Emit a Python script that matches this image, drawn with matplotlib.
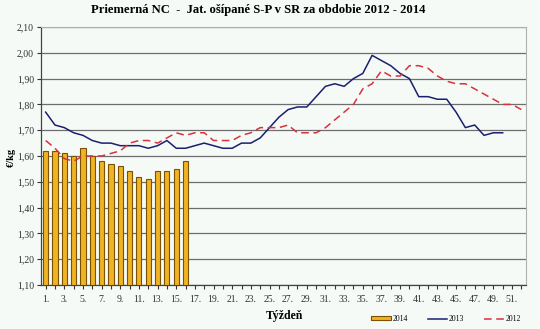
import matplotlib
matplotlib.use("Agg")
import matplotlib.pyplot as plt
from matplotlib.lines import Line2D
from matplotlib.patches import Patch
import numpy as np

plt.rcParams['font.family'] = ['Liberation Serif', 'DejaVu Serif']

weeks = list(range(1, 53))

price_2014 = [1.62, 1.62, 1.61, 1.60, 1.63, 1.60, 1.58, 1.57, 1.56, 1.54,
              1.52, 1.51, 1.54, 1.54, 1.55, 1.58]

price_2013 = [1.77, 1.72, 1.71, 1.69, 1.68, 1.66, 1.65, 1.65, 1.64, 1.64,
              1.64, 1.63, 1.64, 1.66, 1.63, 1.63, 1.64, 1.65, 1.64, 1.63,
              1.63, 1.65, 1.65, 1.67, 1.71, 1.75, 1.78, 1.79, 1.79, 1.83,
              1.87, 1.88, 1.87, 1.90, 1.92, 1.99, 1.97, 1.95, 1.92, 1.90,
              1.83, 1.83, 1.82, 1.82, 1.77, 1.71, 1.72, 1.68, 1.69, 1.69]

price_2012 = [1.66, 1.63, 1.59, 1.58, 1.60, 1.60, 1.60, 1.61, 1.62, 1.65,
              1.66, 1.66, 1.65, 1.67, 1.69, 1.68, 1.69, 1.69, 1.66, 1.66,
              1.66, 1.68, 1.69, 1.71, 1.71, 1.71, 1.72, 1.69, 1.69, 1.69,
              1.71, 1.74, 1.77, 1.80, 1.86, 1.88, 1.93, 1.91, 1.91, 1.95,
              1.95, 1.94, 1.91, 1.89, 1.88, 1.88, 1.86, 1.84, 1.82, 1.80,
              1.80, 1.78]

y_ticks = [1.10, 1.20, 1.30, 1.40, 1.50, 1.60, 1.70, 1.80, 1.90, 2.00, 2.10]

bg = '#f5faf7'
fig = plt.figure(figsize=(5.40, 3.29), dpi=100, facecolor=bg)
ax = fig.add_axes([41/540, 1 - 285/329, 485/540, 258/329])
ax.set_facecolor(bg)

x14 = np.arange(1, len(price_2014) + 1)
x13 = np.arange(1, len(price_2013) + 1)
x12 = np.arange(1, len(price_2012) + 1)

ax.bar(x14, np.array(price_2014) - 1.10, bottom=1.10, width=0.55,
       color='#f0b323', edgecolor='#7a5200', linewidth=0.8, zorder=3)
ax.plot(x13, price_2013, color='#1c1f6e', linewidth=1.1, zorder=4)
ax.plot(x12, price_2012, color='#d8323c', linewidth=1.1,
        dashes=(5, 3), zorder=4)

ax.set_xlim(0.5, 52.5)
ax.set_ylim(1.10, 2.10)
ax.set_yticks(y_ticks)
ax.set_yticklabels([f"{v:.2f}".replace('.', ',') for v in y_ticks])
ax.set_xticks(weeks[::2])
ax.set_xticklabels([f"{w}." for w in weeks[::2]])
ax.set_xticks(weeks, minor=True)

ax.grid(axis='y', color='#6e6e6e', linewidth=0.9, zorder=1)
ax.tick_params(axis='both', which='both', labelsize=7, colors='#333333',
               direction='out', length=3, width=0.8, labelcolor='#333333')
ax.tick_params(axis='x', which='minor', length=3)
ax.tick_params(axis='x', pad=4)
ax.tick_params(axis='y', pad=2)

for s in ['top', 'right']:
    ax.spines[s].set_color('#b0b0b0')
    ax.spines[s].set_linewidth(0.8)
for s in ['left', 'bottom']:
    ax.spines[s].set_color('#444444')
    ax.spines[s].set_linewidth(0.9)

fig.text(11/540, 1 - 157/329, '€/kg', fontsize=7.5, fontweight='bold',
         rotation=90, ha='center', va='center')
fig.text(285/540, 1 - 316/329, 'Týždeň', fontsize=8.5, fontweight='bold',
         ha='center', va='center')
fig.text(258/540, 1 - 10/329,
         'Priemerná NC  -  Jat. ošípané S-P v SR za obdobie 2012 - 2014',
         fontsize=9.1, fontweight='bold', ha='center', va='center')

handles = [Patch(facecolor='#f0b323', edgecolor='#7a5200', linewidth=0.8),
           Line2D([], [], color='#1c1f6e', linewidth=1.1),
           Line2D([], [], color='#d8323c', linewidth=1.1, dashes=(5, 3))]
leg = fig.legend(handles, ['2014', '2013', '2012'], loc='center',
                 bbox_to_anchor=(446/540, 1 - 319/329), ncol=3, frameon=False,
                 fontsize=5.5, handlelength=2.6, handleheight=0.5,
                 handletextpad=0.2, columnspacing=2.6)

fig.savefig('out.png', dpi=100, facecolor=bg)
